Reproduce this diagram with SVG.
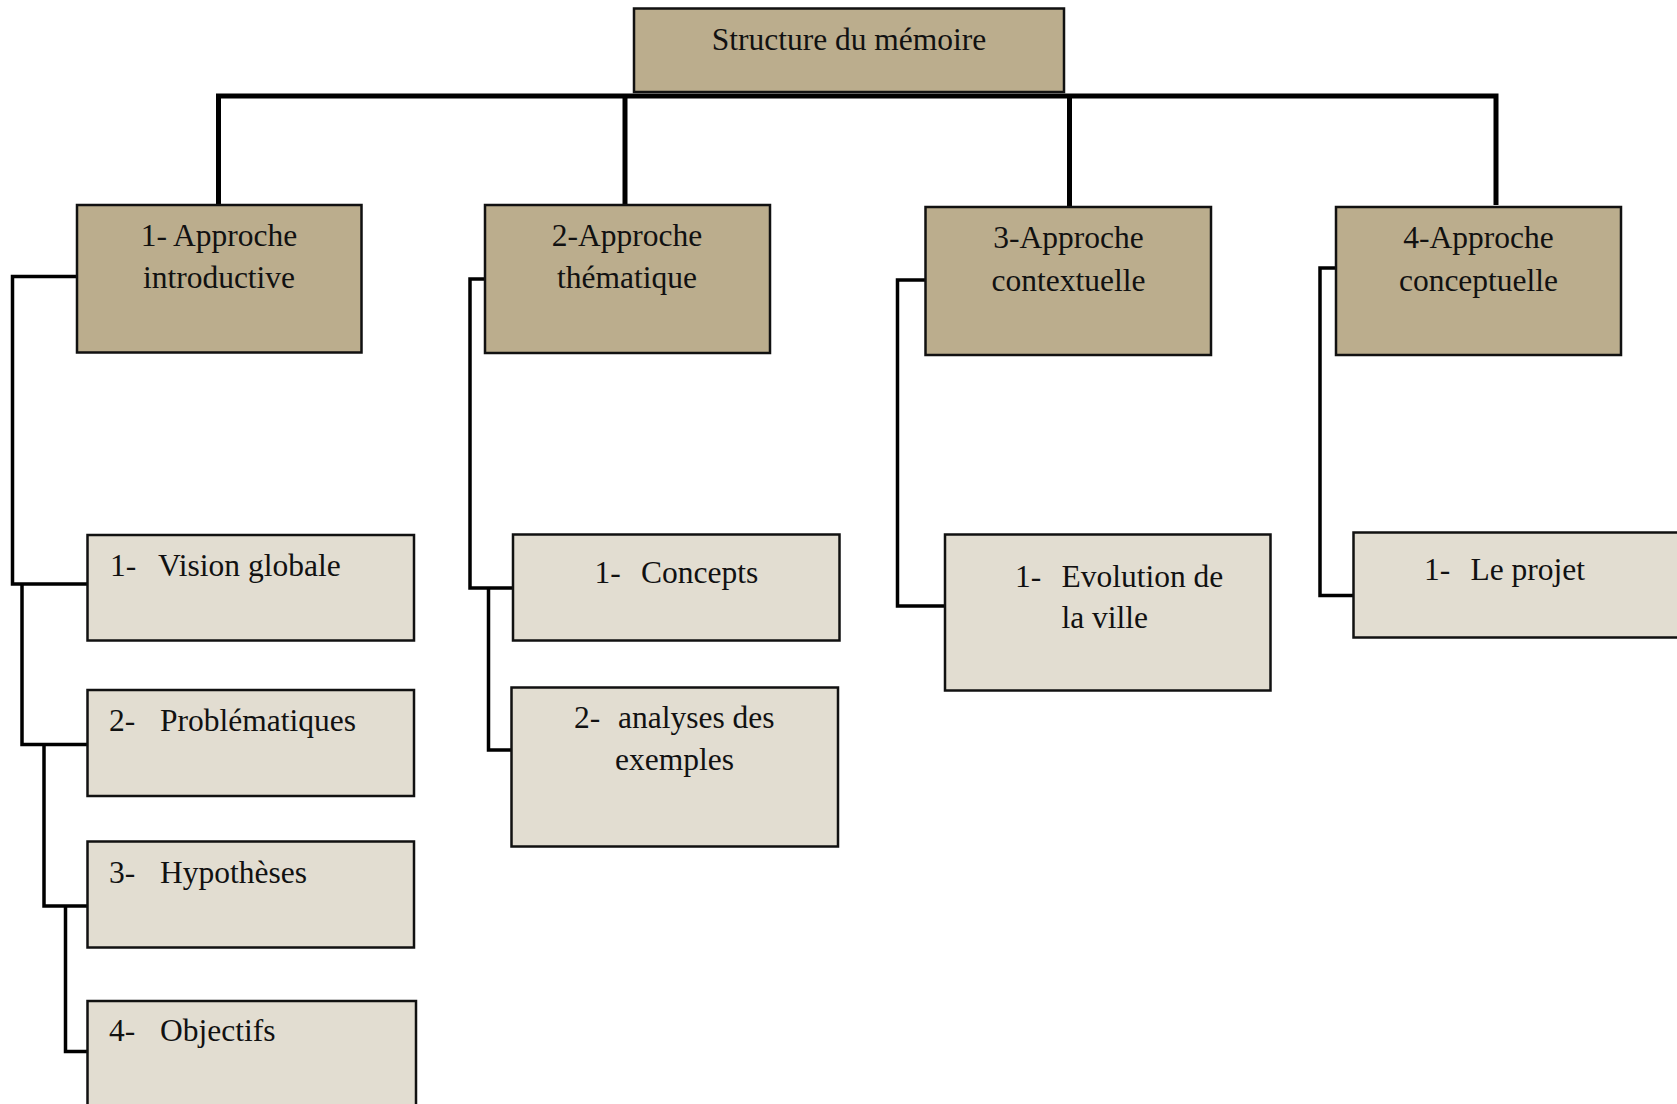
<svg xmlns="http://www.w3.org/2000/svg" width="1677" height="1104" viewBox="0 0 1677 1104">
<style>
.main{fill:#BBAD8D;stroke:#111;stroke-width:2.5}
.sub{fill:#E2DDD1;stroke:#111;stroke-width:2.5}
text{font-family:"Liberation Serif","Times New Roman",serif;font-size:31.5px;fill:#111}
.c{text-anchor:middle}
.trunk{fill:none;stroke:#000;stroke-width:5;stroke-linejoin:miter}
.branch{fill:none;stroke:#000;stroke-width:3.5;stroke-linejoin:miter}
</style>
<rect width="1677" height="1104" fill="#fff"/>
<g id="connectors">
<path class="trunk" d="M218.5,205 V96 H1496 V205"/>
<path class="trunk" d="M625,96 V208"/>
<path class="trunk" d="M1069.5,96 V207"/>
<path class="branch" d="M77,276.5 H12.5 V584 H87.5"/>
<path class="branch" d="M22,584 V744.5 H87.5"/>
<path class="branch" d="M44,744.5 V906 H87.5"/>
<path class="branch" d="M65.5,906 V1051.5 H87.5"/>
<path class="branch" d="M485,279 H470 V588 H513"/>
<path class="branch" d="M488.5,588 V750 H511.5"/>
<path class="branch" d="M925,280 H897.5 V606 H945"/>
<path class="branch" d="M1336,268 H1320 V595.5 H1353"/>
</g>
<g id="root">
<rect class="main" x="634" y="8.5" width="430" height="83.5"/>
<text class="c" x="849" y="50">Structure du mémoire</text>
</g>
<g id="approche1">
<rect class="main" x="77" y="205" width="284.5" height="147.5"/>
<text class="c" x="219" y="246">1- Approche</text>
<text class="c" x="219" y="288">introductive</text>
</g>
<g id="approche2">
<rect class="main" x="485" y="205" width="285" height="148"/>
<text class="c" x="627" y="246">2-Approche</text>
<text class="c" x="627" y="288">thématique</text>
</g>
<g id="approche3">
<rect class="main" x="925.5" y="207" width="285.5" height="148"/>
<text class="c" x="1068.5" y="248">3-Approche</text>
<text class="c" x="1068.5" y="291">contextuelle</text>
</g>
<g id="approche4">
<rect class="main" x="1336" y="207" width="285" height="148"/>
<text class="c" x="1478.5" y="248">4-Approche</text>
<text class="c" x="1478.5" y="291">conceptuelle</text>
</g>
<g id="vision">
<rect class="sub" x="87.5" y="535" width="326.5" height="105.5"/>
<text x="110" y="576">1-<tspan x="158">Vision globale</tspan></text>
</g>
<g id="problematiques">
<rect class="sub" x="87.5" y="690" width="326.5" height="106"/>
<text x="109" y="731">2-<tspan x="160">Problématiques</tspan></text>
</g>
<g id="hypotheses">
<rect class="sub" x="87.5" y="841.5" width="326.5" height="106"/>
<text x="109" y="883">3-<tspan x="160">Hypothèses</tspan></text>
</g>
<g id="objectifs">
<rect class="sub" x="87.5" y="1001" width="328.5" height="120"/>
<text x="109" y="1041">4-<tspan x="160">Objectifs</tspan></text>
</g>
<g id="concepts">
<rect class="sub" x="513" y="534.5" width="326.5" height="106"/>
<text x="594.5" y="582.5">1-<tspan x="641">Concepts</tspan></text>
</g>
<g id="analyses">
<rect class="sub" x="511.5" y="687.5" width="326.5" height="159"/>
<text x="574" y="727.5">2-<tspan x="618">analyses des</tspan></text>
<text class="c" x="674.5" y="769.5">exemples</text>
</g>
<g id="evolution">
<rect class="sub" x="945" y="534.5" width="325.5" height="156"/>
<text x="1015" y="586.5">1-<tspan x="1061.5">Evolution de</tspan></text>
<text x="1061.5" y="628">la ville</text>
</g>
<g id="projet">
<rect class="sub" x="1353.5" y="532.5" width="340" height="105"/>
<text x="1424" y="580">1-<tspan x="1470.5">Le projet</tspan></text>
</g>
</svg>
